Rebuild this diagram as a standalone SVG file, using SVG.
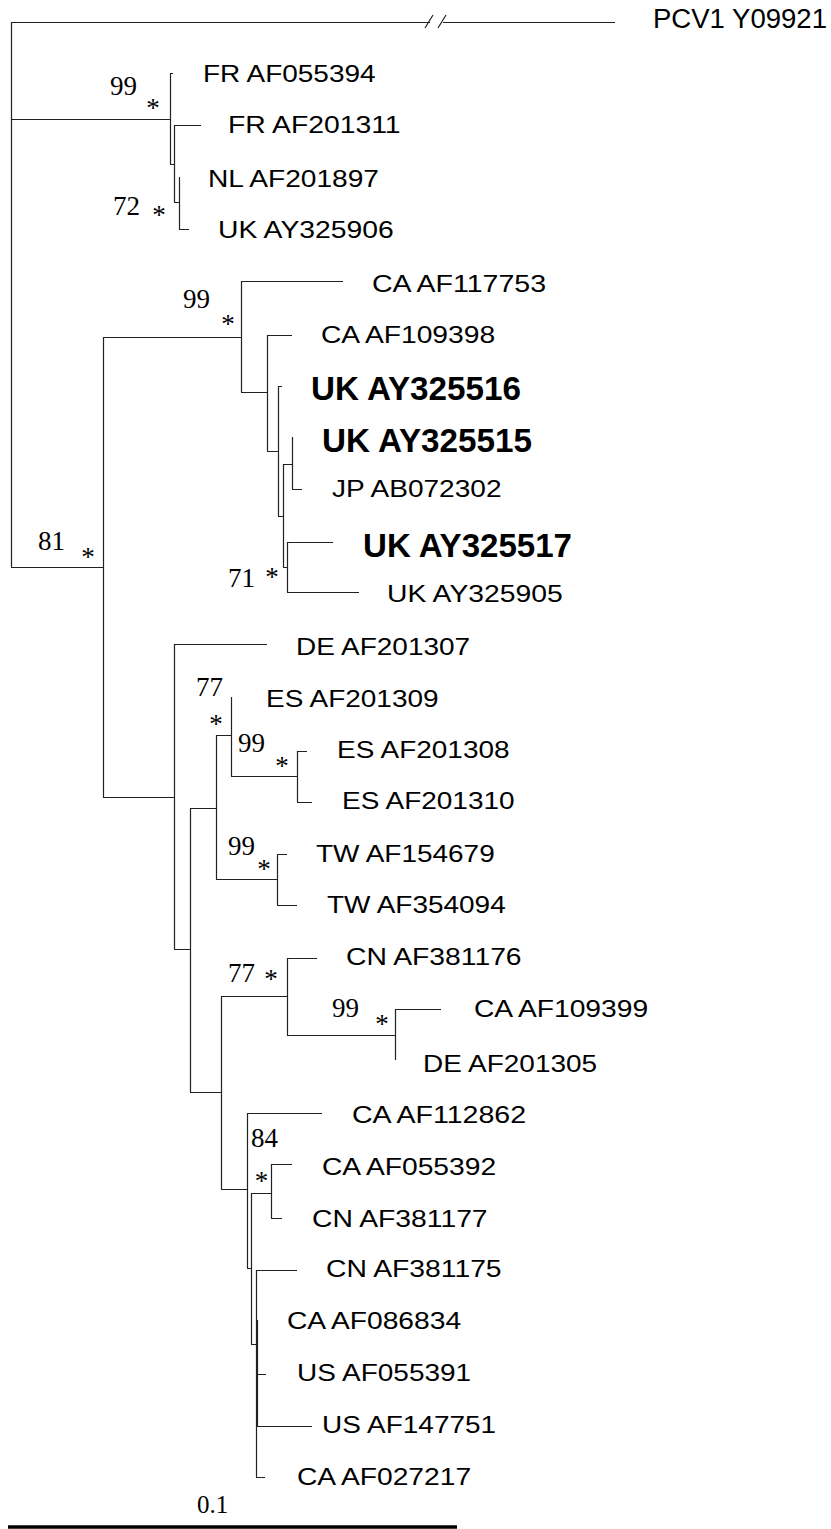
<svg xmlns="http://www.w3.org/2000/svg" width="831" height="1529" viewBox="0 0 831 1529">
<style>
.br{fill:none;stroke:#222;stroke-width:1.2}
.lbl{font-family:"Liberation Sans",Arial,sans-serif;font-size:24px;fill:#000}
.bold{font-family:"Liberation Sans",Arial,sans-serif;font-size:33px;font-weight:bold;fill:#000}
.num{font-family:"Liberation Serif","Times New Roman",serif;font-size:27px;fill:#000}
.ast{font-family:"Liberation Serif","Times New Roman",serif;font-size:27px;fill:#000;text-anchor:middle}
</style>
<rect width="831" height="1529" fill="#fff"/>
<g id="connectors">
<path class="br" d="M11.5 22V567 M11.5 22.5H430 M443 22.5H615 M425 28L433 15 M438 28L446 15"/>
<path class="br" d="M11 119.5H170.5 M170.5 73V164 M170 73.5H173 M170 164.5H174.5 M174.5 125V202 M174 125.5H201 M174 202.5H179.5 M179.5 177V229 M179 229.5H189"/>
<path class="br" d="M11 567.5H103.5 M103.5 337V797 M103 337.5H241.5 M241.5 281V392 M241 281.5H343 M241 392.5H267.5 M267.5 335V451 M267 335.5H292 M267 451.5H278.5 M278.5 386V516 M278 386.5H282 M278 516.5H283.5 M283.5 464V567 M283 464.5H292.5 M292.5 437V489 M292 489.5H302 M283 567.5H287.5 M287.5 542V592 M287 542.5H333 M287 592.5H359"/>
<path class="br" d="M103 797.5H174.5 M174.5 644V949 M174 644.5H267 M174 949.5H190.5 M190.5 808V1092 M190 808.5H216.5 M216.5 735V879 M216 735.5H231.5 M231.5 697V776 M231 776.5H297.5 M297.5 751V802 M297 751.5H307 M297 802.5H312 M216 879.5H277.5 M277.5 854V905 M277 854.5H287 M277 905.5H297"/>
<path class="br" d="M190 1092.5H221.5 M221.5 996V1189 M221 996.5H287.5 M287.5 958V1035 M287 958.5H317 M287 1035.5H395.5 M395.5 1009V1060 M395 1009.5H441"/>
<path class="br" d="M221 1189.5H247.5 M247.5 1113V1268 M247 1113.5H322 M247 1268.5H251.5 M251.5 1193V1344 M251 1193.5H271.5 M271.5 1164V1218 M271 1164.5H292 M271 1218.5H282 M251 1344.5H256.5 M256.5 1270V1477 M257.5 1320V1426 M256 1270.5H297 M256 1374.5H266 M256 1426.5H312 M256 1477.5H265"/>
<path d="M8 1527H457" stroke="#000" stroke-width="3.5" fill="none"/>
</g>
<g id="taxa">
<g id="t-pcv1"><text class="lbl" x="653" y="28" style="font-size:27px" textLength="174" lengthAdjust="spacingAndGlyphs">PCV1 Y09921</text></g>
<g id="t-fr1"><text class="lbl" x="203" y="82" textLength="172.6" lengthAdjust="spacingAndGlyphs">FR AF055394</text></g>
<g id="t-fr2"><text class="lbl" x="228" y="133" textLength="172.6" lengthAdjust="spacingAndGlyphs">FR AF201311</text></g>
<g id="t-nl"><text class="lbl" x="208" y="187" textLength="171" lengthAdjust="spacingAndGlyphs">NL AF201897</text></g>
<g id="t-uk906"><text class="lbl" x="218" y="238" textLength="175.7" lengthAdjust="spacingAndGlyphs">UK AY325906</text></g>
<g id="t-ca753"><text class="lbl" x="372" y="292" textLength="174.1" lengthAdjust="spacingAndGlyphs">CA AF117753</text></g>
<g id="t-ca398"><text class="lbl" x="321" y="343" textLength="174.1" lengthAdjust="spacingAndGlyphs">CA AF109398</text></g>
<g id="t-uk516"><text class="bold" x="311" y="400" textLength="210" lengthAdjust="spacingAndGlyphs">UK AY325516</text></g>
<g id="t-uk515"><text class="bold" x="322" y="452" textLength="210" lengthAdjust="spacingAndGlyphs">UK AY325515</text></g>
<g id="t-jp"><text class="lbl" x="332" y="497" textLength="169.5" lengthAdjust="spacingAndGlyphs">JP AB072302</text></g>
<g id="t-uk517"><text class="bold" x="363" y="557" textLength="209" lengthAdjust="spacingAndGlyphs">UK AY325517</text></g>
<g id="t-uk905"><text class="lbl" x="387" y="602" textLength="175.7" lengthAdjust="spacingAndGlyphs">UK AY325905</text></g>
<g id="t-de307"><text class="lbl" x="296" y="655" textLength="174.1" lengthAdjust="spacingAndGlyphs">DE AF201307</text></g>
<g id="t-es309"><text class="lbl" x="266" y="707" textLength="172.6" lengthAdjust="spacingAndGlyphs">ES AF201309</text></g>
<g id="t-es308"><text class="lbl" x="337" y="758" textLength="172.6" lengthAdjust="spacingAndGlyphs">ES AF201308</text></g>
<g id="t-es310"><text class="lbl" x="342" y="809" textLength="172.6" lengthAdjust="spacingAndGlyphs">ES AF201310</text></g>
<g id="t-tw679"><text class="lbl" x="316" y="862" textLength="178.7" lengthAdjust="spacingAndGlyphs">TW AF154679</text></g>
<g id="t-tw094"><text class="lbl" x="327" y="913" textLength="178.7" lengthAdjust="spacingAndGlyphs">TW AF354094</text></g>
<g id="t-cn176"><text class="lbl" x="346" y="965" textLength="175.6" lengthAdjust="spacingAndGlyphs">CN AF381176</text></g>
<g id="t-ca399"><text class="lbl" x="474" y="1017" textLength="174.1" lengthAdjust="spacingAndGlyphs">CA AF109399</text></g>
<g id="t-de305"><text class="lbl" x="423" y="1072" textLength="174.1" lengthAdjust="spacingAndGlyphs">DE AF201305</text></g>
<g id="t-ca862"><text class="lbl" x="352" y="1123" textLength="174.1" lengthAdjust="spacingAndGlyphs">CA AF112862</text></g>
<g id="t-ca392"><text class="lbl" x="322" y="1175" textLength="174.1" lengthAdjust="spacingAndGlyphs">CA AF055392</text></g>
<g id="t-cn177"><text class="lbl" x="312" y="1227" textLength="175.6" lengthAdjust="spacingAndGlyphs">CN AF381177</text></g>
<g id="t-cn175"><text class="lbl" x="326" y="1277" textLength="175.6" lengthAdjust="spacingAndGlyphs">CN AF381175</text></g>
<g id="t-ca834"><text class="lbl" x="287" y="1329" textLength="174.1" lengthAdjust="spacingAndGlyphs">CA AF086834</text></g>
<g id="t-us391"><text class="lbl" x="297" y="1381" textLength="174.1" lengthAdjust="spacingAndGlyphs">US AF055391</text></g>
<g id="t-us751"><text class="lbl" x="322" y="1433" textLength="174.1" lengthAdjust="spacingAndGlyphs">US AF147751</text></g>
<g id="t-ca217"><text class="lbl" x="297" y="1485" textLength="174.1" lengthAdjust="spacingAndGlyphs">CA AF027217</text></g>
</g>
<g id="support">
<g id="s1"><text class="num" x="110" y="95">99</text><text class="ast" x="153" y="117">*</text></g>
<g id="s2"><text class="num" x="113" y="215">72</text><text class="ast" x="159" y="224">*</text></g>
<g id="s3"><text class="num" x="183" y="308">99</text><text class="ast" x="228" y="333">*</text></g>
<g id="s4"><text class="num" x="38" y="550">81</text><text class="ast" x="88" y="566">*</text></g>
<g id="s5"><text class="num" x="228" y="587">71</text><text class="ast" x="272" y="586">*</text></g>
<g id="s6"><text class="num" x="196" y="696">77</text><text class="ast" x="216" y="733">*</text></g>
<g id="s7"><text class="num" x="238" y="752">99</text><text class="ast" x="282" y="775">*</text></g>
<g id="s8"><text class="num" x="228" y="855">99</text><text class="ast" x="264" y="878">*</text></g>
<g id="s9"><text class="num" x="228" y="982">77</text><text class="ast" x="271" y="988">*</text></g>
<g id="s10"><text class="num" x="332" y="1017">99</text><text class="ast" x="382" y="1033">*</text></g>
<g id="s11"><text class="num" x="251" y="1147">84</text><text class="ast" x="261.5" y="1190">*</text></g>
</g>
<g id="scale"><text class="num" x="197" y="1513" style="font-size:25px">0.1</text></g>
</svg>
